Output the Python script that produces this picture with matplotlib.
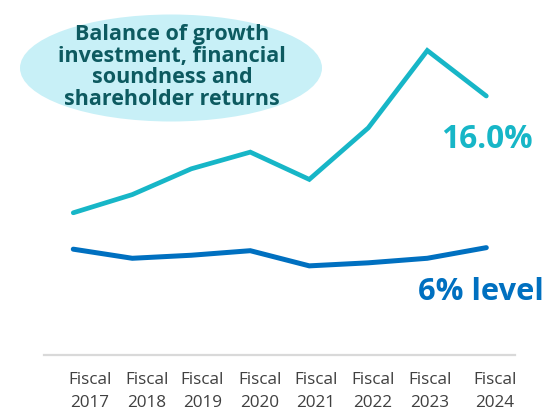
import matplotlib
matplotlib.use("Agg")
import matplotlib.pyplot as plt
from matplotlib.patches import Ellipse

# data
years = ["2017", "2018", "2019", "2020", "2021", "2022", "2023", "2024"]
roe = [8.3, 9.5, 11.2, 12.3, 10.5, 13.9, 19.0, 16.0]
doe = [5.9, 5.3, 5.5, 5.8, 4.8, 5.0, 5.3, 6.0]
roe_label = "16.0%"
doe_label = "6% level"
bubble_text = "Balance of growth\ninvestment, financial\nsoundness and\nshareholder returns"

plt.rcParams['font.family'] = ['Open Sans', 'DejaVu Sans']

fig = plt.figure(figsize=(5.45, 4.11), dpi=100)
ax = fig.add_axes([0, 0, 1, 1])
ax.axis("off")

x = list(range(len(years)))
ax.plot(x, roe, color="#17b6c7", lw=3.4, solid_capstyle="round", solid_joinstyle="miter")
ax.plot(x, doe, color="#0070c0", lw=3.6, solid_capstyle="round", solid_joinstyle="miter")
ax.set_xlim(-1.242, 7.995)
ax.set_ylim(-4.77, 22.33)

# baseline
ax.plot([0.081, 0.945], [1 - 354.5 / 411] * 2, transform=ax.transAxes,
        color="#d9d9d9", lw=1.6)

# category labels
label_x = [0.28, 1.25, 2.19, 3.16, 4.11, 5.08, 6.04, 7.15]
for lx, yr in zip(label_x, years):
    ax.text(lx, 1 - 380 / 411, "Fiscal", transform=ax.get_xaxis_transform(),
            ha="center", va="center", fontsize=12.3, color="#404040")
    ax.text(lx, 1 - 403 / 411, yr, transform=ax.get_xaxis_transform(),
            ha="center", va="center", fontsize=12.3, color="#404040")

# end labels
ax.text(0.894, 1 - 139 / 411, roe_label, transform=ax.transAxes, ha="center",
        va="center", fontsize=22.8, fontweight="bold", color="#17b6c7")
ax.text(0.998, 1 - 292 / 411, doe_label, transform=ax.transAxes, ha="right",
        va="center", fontsize=22.2, fontweight="bold", color="#0070c0")

# bubble
ax.add_patch(Ellipse((171 / 545, 1 - 68 / 411), 302 / 545, 107 / 411,
                     transform=ax.transAxes, facecolor="#c8f0f7", edgecolor="none"))
ax.text(172 / 545, 1 - 67 / 411, bubble_text, transform=ax.transAxes,
        ha="center", va="center", fontsize=15.5, fontweight="bold",
        color="#0d5a60", linespacing=1.06)

fig.savefig("out.png", dpi=100)
